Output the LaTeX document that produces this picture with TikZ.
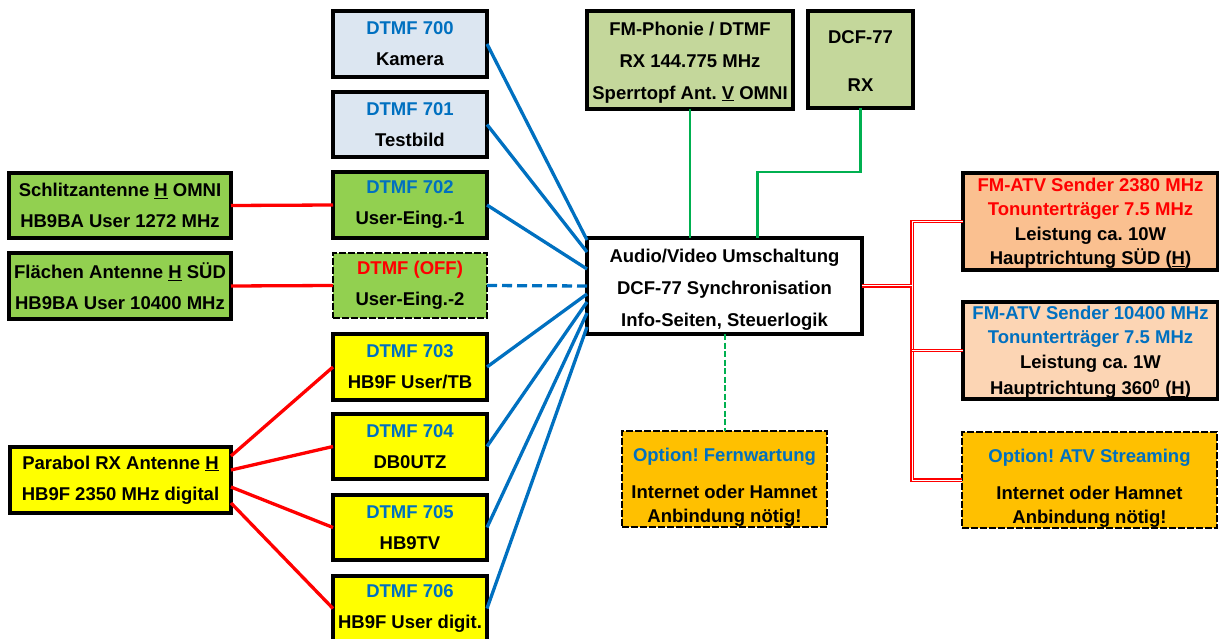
\documentclass[tikz,border=0pt]{standalone}
\usepackage{fontspec}
\setmainfont{Liberation Sans}
\frenchspacing
\definecolor{tblue}{HTML}{0070C0}
\definecolor{tred}{HTML}{FF0000}
\definecolor{lgreen}{HTML}{00B050}
\definecolor{fblue}{HTML}{DCE6F1}
\definecolor{fgreen}{HTML}{92D050}
\definecolor{folive}{HTML}{C4D79B}
\definecolor{fyellow}{HTML}{FFFF00}
\definecolor{forange}{HTML}{FAC090}
\definecolor{fpeach}{HTML}{FCD5B4}
\definecolor{fgold}{HTML}{FFC000}
\tikzset{
  box/.style={draw=black, line width=3.2pt, inner sep=0pt, outer sep=0pt, align=center,
    font=\bfseries\fontsize{18.5pt}{31pt}\selectfont},
  dbox/.style={box, line width=2.5pt, dash pattern=on 7pt off 2pt},
  sz/.style 2 args={minimum width=#1pt, minimum height=#2pt},
  blueline/.style={draw=tblue, line width=3.3pt},
  redline/.style={draw=tred, line width=3.3pt},
  greenline/.style={draw=lgreen, line width=2.8pt},
  reddouble/.style={draw=tred, line width=1.2pt, double=white, double distance=1pt},
}
\begin{document}
\begin{tikzpicture}[x=1pt,y=-1pt]
\useasboundingbox (0,0) rectangle (1219,639);
% DTMF column
\node[box, fill=fblue, sz={154}{66}] (k700) at (410,44) {\textcolor{tblue}{DTMF 700}\\Kamera};
\node[box, fill=fblue, sz={154}{65}] (k701) at (410,124.5) {\textcolor{tblue}{DTMF 701}\\Testbild};
\node[box, fill=fgreen, sz={154}{66}] (k702) at (410,205) {\textcolor{tblue}{DTMF 702}\\User-Eing.-1};
\node[dbox, fill=fgreen, sz={154}{65}] (koff) at (410,285.5) {\textcolor{tred}{DTMF (OFF)}\\User-Eing.-2};
\node[box, fill=fyellow, sz={154}{66}] (k703) at (410,367) {\textcolor{tblue}{DTMF 703}\\HB9F User/TB};
\node[box, fill=fyellow, sz={154}{65}] (k704) at (410,446.5) {\textcolor{tblue}{DTMF 704}\\DB0UTZ};
\node[box, fill=fyellow, sz={154}{65}] (k705) at (410,527.5) {\textcolor{tblue}{DTMF 705}\\HB9TV};
\node[box, fill=fyellow, sz={154}{65}] (k706) at (410,608.5) {\textcolor{tblue}{DTMF 706}\\HB9F User digit.};
% left antennas
\node[box, fill=fgreen, sz={222}{65}] (schl) at (120,205.5) {Schlitzantenne \underline{H} OMNI\\HB9BA User 1272 MHz};
\node[box, fill=fgreen, sz={222}{66}] (flae) at (120,286) {Flächen Antenne \underline{H} SÜD\\HB9BA User 10400 MHz};
\node[box, fill=fyellow, sz={221}{66}] (para) at (120.5,480) {Parabol RX Antenne \underline{H}\\HB9F 2350 MHz digital};
% top receivers
\node[box, fill=folive, sz={206}{98}, font=\bfseries\fontsize{18.5pt}{32pt}\selectfont] (fm) at (690,60) {\rule{0pt}{18pt}FM-Phonie / DTMF\\RX 144.775 MHz\\Sperrtopf Ant. \underline{V} OMNI};
\node[box, fill=folive, sz={105}{97}, font=\bfseries\fontsize{18.5pt}{48pt}\selectfont] (dcf) at (860.5,59.5) {\rule{0pt}{17pt}DCF-77\\RX};
% center
\node[box, fill=white, sz={275}{96}, font=\bfseries\fontsize{18.5pt}{32pt}\selectfont] (cen) at (724.5,286) {\rule{0pt}{20pt}Audio/Video Umschaltung\\DCF-77 Synchronisation\\Info-Seiten, Steuerlogik};
% right transmitters
\node[box, fill=forange, sz={255}{97}, font=\bfseries\fontsize{18.5pt}{24.5pt}\selectfont] (atva) at (1090.5,221.5) {\rule{0pt}{17pt}\textcolor{tred}{FM-ATV Sender 2380 MHz}\\\textcolor{tred}{Tonunterträger 7.5 MHz}\\Leistung ca. 10W\\Hauptrichtung SÜD (\underline{H})};
\node[box, fill=fpeach, sz={255}{97}, font=\bfseries\fontsize{18.5pt}{24.5pt}\selectfont] (atvb) at (1090.5,350.5) {\rule{0pt}{17pt}\textcolor{tblue}{FM-ATV Sender 10400 MHz}\\\textcolor{tblue}{Tonunterträger 7.5 MHz}\\Leistung ca. 1W\\[2pt]Hauptrichtung 360\textsuperscript{0} (\underline{H})};
% options
\node[dbox, fill=fgold, sz={255}{96}, font=\bfseries\fontsize{18.5pt}{24pt}\selectfont] (strm) at (1089.5,480) {\rule{0pt}{30pt}\textcolor{tblue}{Option! ATV Streaming}\\[13pt]Internet oder Hamnet\\Anbindung nötig!};
\node[dbox, fill=fgold, sz={205}{96}, font=\bfseries\fontsize{18.5pt}{24pt}\selectfont] (fw) at (724.5,479) {\rule{0pt}{30pt}\textcolor{tblue}{Option! Fernwartung}\\[13pt]Internet oder Hamnet\\Anbindung nötig!};
% red antenna links
\draw[redline] (schl.east) -- (k702.west);
\draw[redline] (flae.east) -- (koff.west);
\draw[redline] ([yshift=24pt]para.east) -- (k703.west);
\draw[redline] ([yshift=10pt]para.east) -- (k704.west);
\draw[redline] ([yshift=-7pt]para.east) -- (k705.west);
\draw[redline] ([yshift=-23pt]para.east) -- (k706.west);
% blue links to center
\draw[blueline] (k700.east) -- ([yshift=46pt]cen.west);
\draw[blueline] (k701.east) -- ([yshift=34pt]cen.west);
\draw[blueline] (k702.east) -- ([yshift=17pt]cen.west);
\draw[blueline, dash pattern=on 10pt off 5pt] (koff.east) -- (cen.west);
\draw[blueline] (k703.east) -- ([yshift=-8pt]cen.west);
\draw[blueline] (k704.east) -- ([yshift=-16pt]cen.west);
\draw[blueline] (k705.east) -- ([yshift=-27pt]cen.west);
\draw[blueline] (k706.east) -- ([yshift=-41pt]cen.west);
% green links
\draw[greenline] (fm.south) -- (fm.south |- cen.north);
\coordinate (dcfturn) at ([xshift=33pt]cen.north);
\draw[greenline] (dcf.south) -- ++(0,64) -| (dcfturn);
\draw[greenline, line width=2pt, dash pattern=on 6pt off 2.5pt] (cen.south) -- (fw.north);
% red double bus
\coordinate (bus) at (912,286);
\draw[reddouble] (atva.west) -| (bus |- strm.west) -- (strm.west);
\draw[reddouble] (atvb.west) -- (bus |- atvb.west);
\draw[reddouble, line width=1.6pt] (cen.east) -- (bus);
\end{tikzpicture}
\end{document}
